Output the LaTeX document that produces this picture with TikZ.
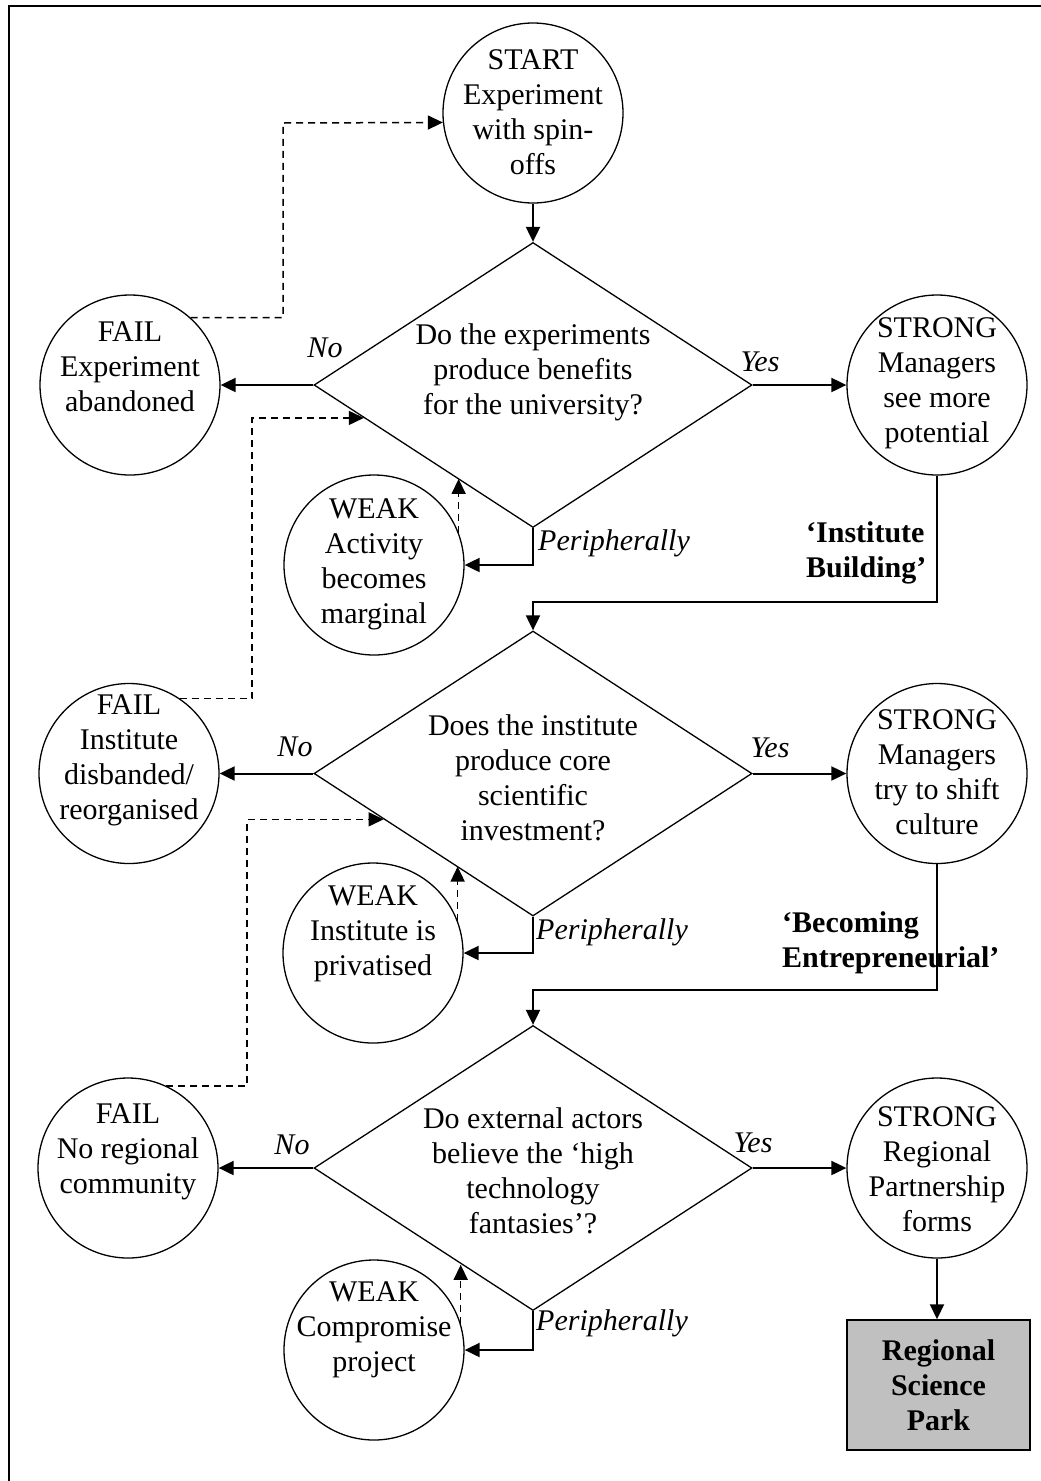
\documentclass[tikz,border=0pt]{standalone}
\usepackage{fontspec}
\setmainfont{Liberation Serif}
\usetikzlibrary{shapes.geometric,arrows.meta,calc}
\begin{document}
\begin{tikzpicture}[x=1pt,y=-1pt,
  every node/.style={font=\fontsize{30}{35}\selectfont},
  circ/.style={draw,circle,line width=1.3pt,minimum size=180pt,inner sep=0pt},
  dia/.style={draw,diamond,line width=1.3pt,minimum width=438pt,minimum height=285pt,inner sep=0pt},
  txt/.style={align=center,inner sep=0pt},
  lab/.style={inner sep=0pt,font=\fontsize{30}{35}\selectfont\itshape},
  arr/.style={line width=2pt,-{Triangle[length=15pt,width=14pt]}},
  darr/.style={line width=1.5pt,dash pattern=on 7pt off 5pt,-{Triangle[length=15pt,width=14pt]}},
  phase/.style={align=left,inner sep=0pt,font=\fontsize{30}{35}\selectfont\bfseries}
]
\useasboundingbox (0,0) rectangle (1041,1481);
\fill[white] (0,0) rectangle (1041,1481);
% frame
\draw[line width=2pt] (9,1500) -- (9,6) -- (1060,6);

% nodes
\node[circ] (st) at (533,113) {};
\node[txt] at (533,112) {START\\Experiment\\with spin-\\offs};

\node[dia] (d1) at (533,385) {};
\node[txt] at (533,372) {Do the experiments\\produce benefits\\for the university?};
\node[circ] (f1) at (130,385) {};
\node[txt] at (130,367) {FAIL\\Experiment\\abandoned};
\node[circ] (s1) at (937,385) {};
\node[txt] at (937,383.5) {STRONG\\Managers\\see more\\potential};
\node[circ] (w1) at (374,565) {};
\node[txt] at (374,564.5) {WEAK\\Activity\\becomes\\marginal};

\node[dia] (d2) at (533,773.5) {};
\node[txt] at (533,777.5) {Does the institute\\produce core\\scientific\\investment?};
\node[circ] (f2) at (129,773.5) {};
\node[txt] at (129,760) {FAIL\\Institute\\disbanded/\\reorganised};
\node[circ] (s2) at (937,773.5) {};
\node[txt] at (937,772.5) {STRONG\\Managers\\try to shift\\culture};
\node[circ] (w2) at (373,953) {};
\node[txt] at (373,934) {WEAK\\Institute is\\privatised};

\node[dia] (d3) at (533,1168) {};
\node[txt] at (533,1170.5) {Do external actors\\believe the `high\\technology\\fantasies'?};
\node[circ] (f3) at (128,1168) {};
\node[txt] at (128,1152) {FAIL\\No regional\\community};
\node[circ] (s3) at (937,1168) {};
\node[txt] at (937,1169.5) {STRONG\\Regional\\Partnership\\forms};
\node[circ] (w3) at (374,1350) {};
\node[txt] at (374,1330) {WEAK\\Compromise\\project};

\node[draw,line width=1.5pt,fill={rgb,255:red,192;green,192;blue,192},minimum width=183pt,minimum height=130pt,inner sep=0pt,align=center,font=\fontsize{30}{35}\selectfont\bfseries] (park) at (938.5,1385) {Regional\\Science\\Park};

% labels
\node[lab] (no1) at (325,348) {No};
\node[lab] (yes1) at (760,362) {Yes};
\node[lab] (no2) at (295,747) {No};
\node[lab] (yes2) at (770,748) {Yes};
\node[lab] (no3) at (292,1145) {No};
\node[lab] (yes3) at (753,1143) {Yes};
\node[lab,anchor=west] (p1) at (538,543) {Peripherally};
\node[lab,anchor=west] (p2) at (536,932) {Peripherally};
\node[lab,anchor=west] (p3) at (536,1323) {Peripherally};
\node[phase,anchor=west] (ib) at (806,552.5) {`Institute\\Building'};

% solid connectors
\draw[arr] (st.south) -- (d1.north);
\draw[arr] (d1.west) -- (f1.east);
\draw[arr] (d1.east) -- (s1.west);
\draw[arr] (d1.south) |- (w1.east);
\coordinate (k1) at (533,602);
\draw[arr] (s1.south) |- (k1) -- (d2.north);

\draw[arr] (d2.west) -- (f2.east);
\draw[arr] (d2.east) -- (s2.west);
\draw[arr] (d2.south) |- (w2.east);
\coordinate (k2) at (533,990);
\draw[arr] (s2.south) |- (k2) -- (d3.north);

\draw[arr] (d3.west) -- (f3.east);
\draw[arr] (d3.east) -- (s3.west);
\draw[arr] (d3.south) |- (w3.east);
\draw[arr] (s3.south) -- (s3.south |- park.north);

\node[phase,anchor=west] (be) at (782,942.5) {`Becoming\\Entrepreneurial'};

% dashed feedback
\coordinate (j1) at (283,123);
\draw[darr] (f1.48) -| (j1) -- (st.186);

\coordinate (e2) at ($(d1.west)!0.23!(d1.south)$);
\coordinate (j2) at (252,418);
\draw[darr] (f2.56) -| (j2 |- e2) -- (e2);

\coordinate (e3) at ($(d2.west)!0.32!(d2.south)$);
\coordinate (j3) at (247,820);
\draw[darr] (f3.65) -| (j3 |- e3) -- (e3);

\coordinate (u1) at ($(d1.west)!0.656!(d1.south)$);
\draw[darr] (w1.21) -- (w1.21 |- u1);
\coordinate (u2) at ($(d2.west)!0.65!(d2.south)$);
\draw[darr] (w2.21) -- (w2.21 |- u2);
\coordinate (u3) at ($(d3.west)!0.676!(d3.south)$);
\draw[darr] (w3.17) -- (w3.17 |- u3);
\end{tikzpicture}
\end{document}
